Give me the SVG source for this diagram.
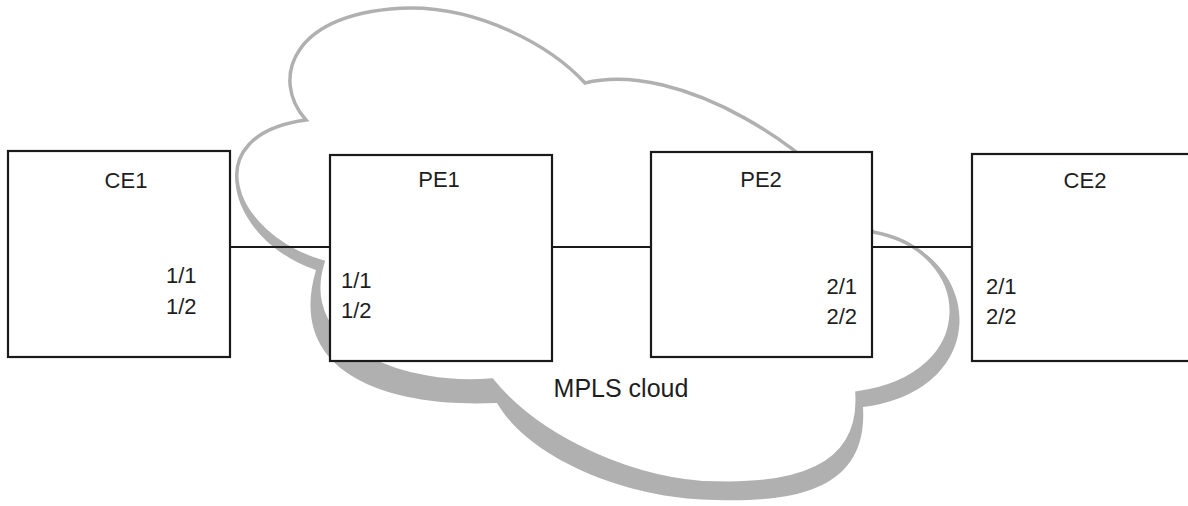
<svg xmlns="http://www.w3.org/2000/svg" width="1188" height="506" viewBox="0 0 1188 506">
  <style>
    .box { fill: #ffffff; stroke: #1a1a1a; stroke-width: 2.2; }
    .link { stroke: #1a1a1a; stroke-width: 2.2; fill: none; }
    .lbl { font-family: "Liberation Sans", Arial, sans-serif; font-size: 22px; fill: #1e1e1e; }
    .cloudlbl { font-family: "Liberation Sans", Arial, sans-serif; font-size: 25px; fill: #1e1e1e; }
    .shadow { fill: #b0b0b0; stroke: none; }
    .cloud { fill: #ffffff; stroke: #b0b0b0; stroke-width: 3.5; stroke-linejoin: miter; }
  </style>
  <rect width="1188" height="506" fill="#ffffff"/>
  <g id="cloud">
    <path class="shadow" d="M306,120 C270,80 290,10 411,8 C480,8 550,45 585,83 C680,60 820,150 873,232 C985,250 995,390 863,407 C868,490 795,502 717,500 C630,500 530,460 497,403 C390,408 285,375 316,270 C228,240 195,135 306,120 Z"/>
    <path class="cloud" d="M306,120 C270,80 290,10 411,8 C480,8 550,45 585,83 C680,60 820,150 873,232 C975,250 985,375 857,393 C862,470 790,485 717,483 C640,483 540,440 492,380 C410,388 295,350 323,262 C230,235 195,135 306,120 Z"/>
    <text class="cloudlbl" x="621" y="397" text-anchor="middle">MPLS cloud</text>
  </g>
  <g id="connectors">
    <line class="link" x1="230" y1="247" x2="330" y2="247"/>
    <line class="link" x1="552" y1="247" x2="651" y2="247"/>
    <line class="link" x1="872" y1="247" x2="972" y2="247"/>
  </g>
  <g id="CE1">
    <rect class="box" x="8" y="151" width="222" height="206"/>
    <text class="lbl" x="126" y="188" text-anchor="middle">CE1</text>
    <text class="lbl" x="166" y="283">1/1</text>
    <text class="lbl" x="166" y="314">1/2</text>
  </g>
  <g id="PE1">
    <rect class="box" x="330" y="155" width="222" height="206"/>
    <text class="lbl" x="439" y="187" text-anchor="middle">PE1</text>
    <text class="lbl" x="341" y="288">1/1</text>
    <text class="lbl" x="341" y="318">1/2</text>
  </g>
  <g id="PE2">
    <rect class="box" x="651" y="152" width="221" height="205"/>
    <text class="lbl" x="761" y="187" text-anchor="middle">PE2</text>
    <text class="lbl" x="857" y="294" text-anchor="end">2/1</text>
    <text class="lbl" x="857" y="324" text-anchor="end">2/2</text>
  </g>
  <g id="CE2">
    <rect class="box" x="972" y="154" width="240" height="207"/>
    <text class="lbl" x="1085" y="188" text-anchor="middle">CE2</text>
    <text class="lbl" x="986" y="294">2/1</text>
    <text class="lbl" x="986" y="324">2/2</text>
  </g>
</svg>
